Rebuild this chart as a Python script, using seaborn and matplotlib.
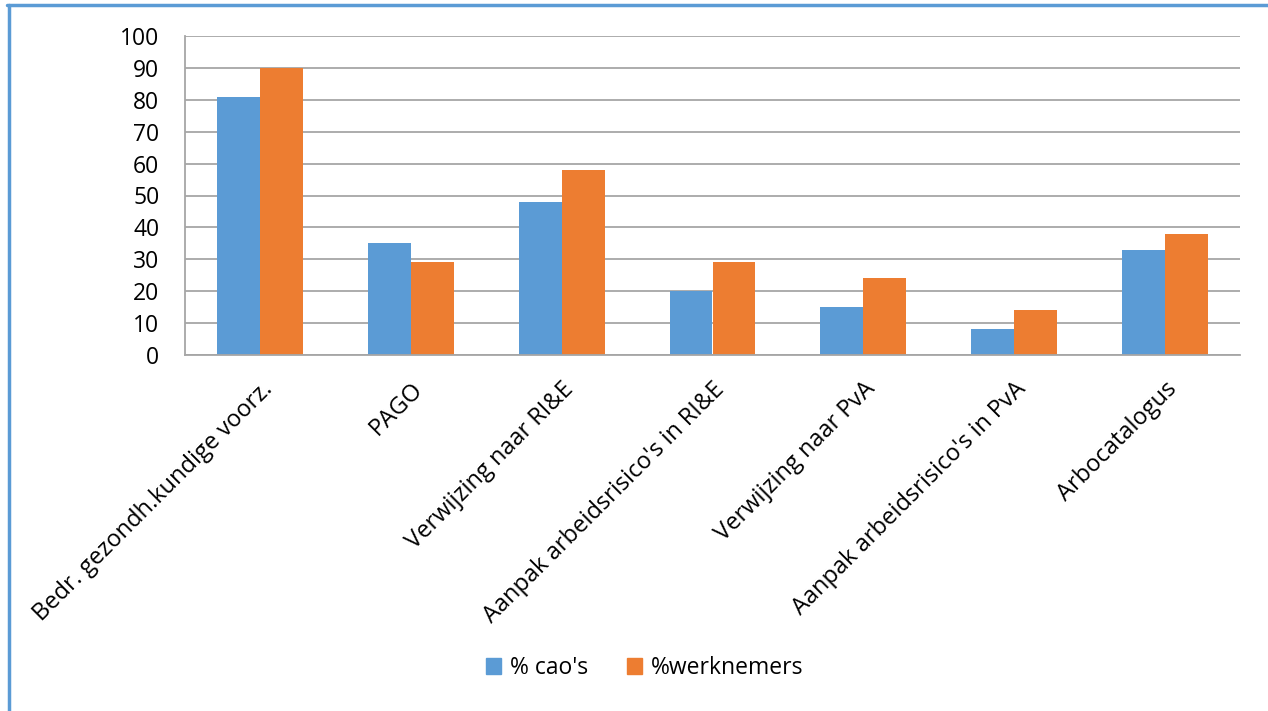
import matplotlib
matplotlib.use("Agg")
import matplotlib.pyplot as plt
import seaborn as sns
import pandas as pd
from matplotlib.lines import Line2D

categories = ["Bedr. gezondh.kundige voorz.", "PAGO", "Verwijzing naar RI&E",
              "Aanpak arbeidsrisico's in RI&E", "Verwijzing naar PvA",
              "Aanpak arbeidsrisico's in PvA", "Arbocatalogus"]
cao = [81, 35, 48, 20, 15, 8, 33]
werknemers = [90, 29, 58, 29, 24, 14, 38]
series = ["% cao's", "%werknemers"]
yticks = [0, 10, 20, 30, 40, 50, 60, 70, 80, 90, 100]

df = pd.DataFrame({
    "cat": categories * 2,
    "val": cao + werknemers,
    "series": [series[0]] * len(categories) + [series[1]] * len(categories),
})

sns.set_style("white")
plt.rcParams['font.family'] = ['Open Sans', 'DejaVu Sans']
plt.rcParams['text.color'] = 'black'
plt.rcParams['xtick.color'] = 'black'
plt.rcParams['ytick.color'] = 'black'

fig = plt.figure(figsize=(12.68, 7.11), dpi=100)
ax = fig.add_axes([185/1268, 1-355/711, (1240-185)/1268, (355-36)/711])

colors = ["#5b9bd5", "#ed7d31"]
sns.barplot(data=df, x="cat", y="val", hue="series", palette=colors,
            width=0.57, saturation=1, ax=ax, legend=False, linewidth=0)

ax.set_xlim(-0.5, len(categories) - 0.5)
ax.set_ylim(0, 100)
ax.set_yticks(yticks)
ax.set_yticklabels([str(v) for v in yticks], fontsize=16.5)
ax.yaxis.grid(True, color="#a6a6a6", linewidth=1.3)
ax.set_axisbelow(True)
ax.set_xlabel("")
ax.set_ylabel("")

ax.set_xticks(range(len(categories)))
ax.set_xticklabels(categories, rotation=45, ha="right", rotation_mode="anchor", fontsize=17)
ax.tick_params(axis="x", which="major", length=0, pad=16)
ax.set_xticks([i - 0.5 for i in range(len(categories) + 1)], minor=True)
ax.tick_params(axis="x", which="minor", length=7, width=1.3, color="#a6a6a6", direction="out")
ax.tick_params(axis="y", which="major", length=6.5, width=1.3, color="#a6a6a6", direction="out", pad=12)

for s in ["top", "right"]:
    ax.spines[s].set_visible(False)
for s in ["left", "bottom"]:
    ax.spines[s].set_color("#a6a6a6")
    ax.spines[s].set_linewidth(1.3)

handles = [plt.Rectangle((0, 0), 1, 1, color=c) for c in colors]
fig.legend(handles, series, loc="center", bbox_to_anchor=(645/1268, 1 - 668/711), ncol=2,
           frameon=False, fontsize=16.5, handlelength=0.65, handleheight=0.65,
           handletextpad=0.4, columnspacing=1.7)

# blue frame border (left and top)
fig.add_artist(Line2D([8.5/1268, 8.5/1268], [0, 1 - 5/711], color="#5b9bd5", linewidth=2.5,
                      transform=fig.transFigure))
fig.add_artist(Line2D([7/1268, 1], [1 - 5/711, 1 - 5/711], color="#5b9bd5", linewidth=2.5,
                      transform=fig.transFigure))

fig.savefig("out.png", dpi=100)
